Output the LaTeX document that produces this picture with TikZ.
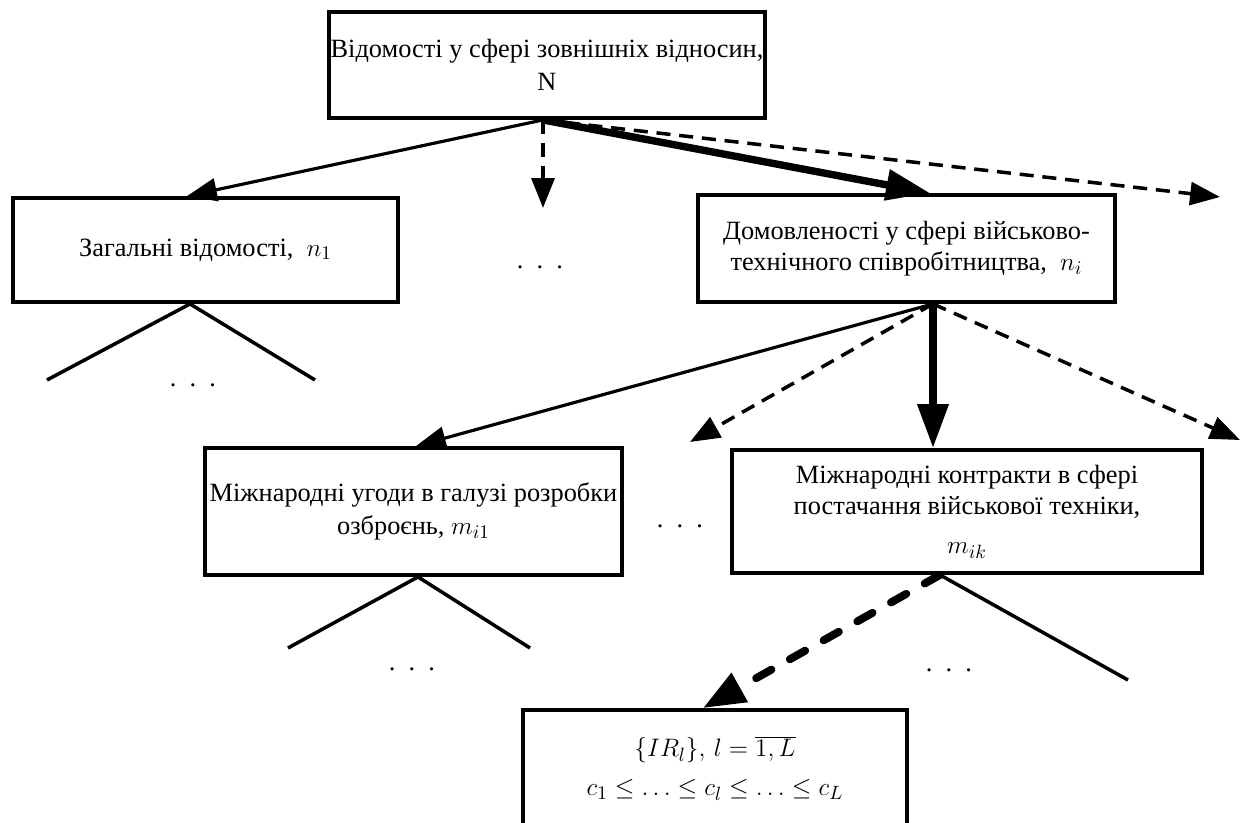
\documentclass[tikz,border=0pt]{standalone}
\usepackage{fontspec}
\setmainfont{Liberation Serif}
\usetikzlibrary{arrows.meta, positioning, calc}

\begin{document}
\begin{tikzpicture}[font=\fontsize{15}{18}\selectfont, >={Triangle[length=17pt,width=13pt]}]
    % Styles
    \tikzstyle{block} = [rectangle, draw, line width=2.2pt, align=center, inner sep=1pt]
    \tikzstyle{link} = [->, line width=1.8pt]
    \tikzstyle{mainlink} = [-{Triangle[length=25pt,width=17pt]}, line width=4.2pt]
    \tikzstyle{maybe} = [->, line width=2pt, dash pattern=on 8pt off 5pt]
    \tikzstyle{maybemain} = [-{Triangle[length=24pt,width=18pt]}, line width=4.5pt, dash pattern=on 10pt off 12pt, line cap=round]
    \tikzstyle{branch} = [line width=2pt]
    \tikzstyle{etc} = [anchor=base, inner sep=0pt]

    \useasboundingbox (0,0) rectangle (24.9,-16.46);

    % Nodes
    \node at (10.94,-1.30) [block, minimum width=8.72cm, minimum height=2.12cm] (info)
        {Відомості у сфері зовнішніх відносин,\\[1pt] N};
    \node at (4.11,-5.0) [block, minimum width=7.7cm, minimum height=2.08cm] (n1)
        {Загальні відомості,\ \ $n_1$};
    \node at (18.13,-4.97) [block, minimum width=8.34cm, minimum height=2.14cm] (ni)
        {Домовленості у сфері військово-\\технічного співробітництва,\ \ $n_i$};
    \node at (8.27,-10.23) [block, minimum width=8.34cm, minimum height=2.54cm] (mi1)
        {Міжнародні угоди в галузі розробки\\[1pt] озброєнь, $m_{i1}$};
    \node at (19.34,-10.23) [block, minimum width=9.4cm, minimum height=2.46cm] (mik)
        {Міжнародні контракти в сфері\\постачання військової техніки,\\[4pt] $m_{ik}$};
    \node at (14.3,-15.36) [block, minimum width=7.68cm, minimum height=2.32cm] (res)
        {$\{IR_l\},\, l=\overline{1,L}$\\[4pt] $c_1\le\ldots\le c_l\le\ldots\le c_L$};

    % Ellipsis
    \node at (10.8,-5.37) [etc] (dots0) {.\enspace.\enspace.};
    \node at (3.86,-7.73) [etc] (dots1) {.\enspace.\enspace.};
    \node at (13.6,-10.55) [etc] (dots2) {.\enspace.\enspace.};
    \node at (8.24,-13.41) [etc] (dots3) {.\enspace.\enspace.};
    \node at (18.98,-13.43) [etc] (dots4) {.\enspace.\enspace.};

    % Points
    \coordinate (infoout) at ($(info.south)+(-0.08,0)$);
    \coordinate (niout) at ($(ni.south)+(0.53,0)$);
    \coordinate (n1out) at ($(n1.south)+(-0.31,0)$);
    \coordinate (mi1out) at ($(mi1.south)+(0.09,0)$);
    \coordinate (mikout) at ($(mik.south)+(-0.54,0)$);
    \coordinate (down0) at (10.86,-4.16);
    \coordinate (right0) at (24.4,-3.94);
    \coordinate (left1) at (13.8,-8.84);
    \coordinate (right1) at (24.8,-8.8);
    \coordinate (n1l) at (0.94,-7.6);
    \coordinate (n1r) at (6.3,-7.6);
    \coordinate (mi1l) at (5.76,-12.96);
    \coordinate (mi1r) at (10.6,-12.96);
    \coordinate (mikr) at (22.56,-13.6);

    % Connections
    \draw[link] (infoout) -- ($(n1.north)+(-0.37,0)$);
    \draw[maybe] (infoout) -- (down0);
    \draw[maybe] (infoout) -- (right0);
    \draw[mainlink] (infoout) -- ($(ni.north)+(0.47,0)$);

    \draw[link] (niout) -- ($(mi1.north)+(0.05,0)$);
    \draw[maybe] (niout) -- (left1);
    \draw[maybe] (niout) -- (right1);
    \draw[mainlink] (niout) -- (niout |- mik.north);

    \draw[branch] (n1l) -- (n1out) -- (n1r);
    \draw[branch] (mi1l) -- (mi1out) -- (mi1r);
    \draw[branch] (mikout) -- (mikr);
    \draw[maybemain] (mikout) -- ($(res.north)+(-0.24,0)$);
\end{tikzpicture}
\end{document}
